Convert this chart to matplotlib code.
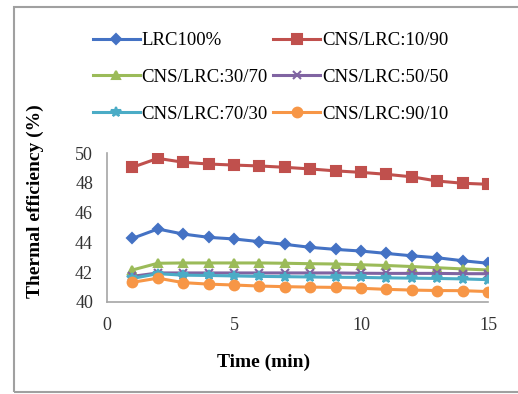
import matplotlib
matplotlib.use("Agg")
import matplotlib.pyplot as plt
from matplotlib.patches import Rectangle

time_min = list(range(1, 16))

lrc100 = [44.27, 44.9, 44.56, 44.34, 44.23, 44.05, 43.87, 43.67, 43.53, 43.42, 43.26, 43.1, 42.97, 42.77, 42.6]
cns_10_90 = [49.04, 49.64, 49.38, 49.26, 49.19, 49.13, 49.04, 48.93, 48.8, 48.7, 48.57, 48.4, 48.12, 47.97, 47.9]
cns_30_70 = [42.15, 42.6, 42.62, 42.62, 42.62, 42.62, 42.6, 42.57, 42.55, 42.5, 42.45, 42.38, 42.3, 42.22, 42.15]
cns_50_50 = [41.72, 41.95, 41.95, 41.95, 41.95, 41.95, 41.95, 41.95, 41.95, 41.93, 41.92, 41.92, 41.92, 41.9, 41.9]
cns_70_30 = [41.58, 41.9, 41.8, 41.78, 41.75, 41.72, 41.7, 41.68, 41.66, 41.65, 41.62, 41.6, 41.58, 41.55, 41.5]
cns_90_10 = [41.32, 41.6, 41.3, 41.2, 41.14, 41.07, 41.03, 41.0, 40.98, 40.92, 40.85, 40.8, 40.77, 40.76, 40.7]

labels = ["LRC100%", "CNS/LRC:10/90", "CNS/LRC:30/70",
          "CNS/LRC:50/50", "CNS/LRC:70/30", "CNS/LRC:90/10"]
series = [lrc100, cns_10_90, cns_30_70, cns_50_50, cns_70_30, cns_90_10]
colors = ["#4472C4", "#C0504D", "#9BBB59", "#8064A2", "#4BACC6", "#F79646"]
markers = ["D", "s", "^", "x", "*", "o"]
msizes = [5.5, 7, 6, 6, 7, 7]

plt.rcParams["font.family"] = ["Liberation Serif", "DejaVu Serif"]

fig = plt.figure(figsize=(5.18, 3.94), dpi=100)
ax = fig.add_axes([107 / 518, 1 - 302 / 394, (488 - 107) / 518, (302 - 153) / 394])

handles = []
for y, lab, c, m, ms in zip(series, labels, colors, markers, msizes):
    h, = ax.plot(time_min, y, color=c, marker=m, markersize=ms, linewidth=2.2,
                 markeredgewidth=1.5, label=lab)
    handles.append(h)

ax.set_xlim(0, 15)
ax.set_ylim(40, 50)
ax.set_xticks([0, 5, 10, 15])
ax.set_yticks([40, 42, 44, 46, 48, 50])
ax.tick_params(length=0, labelsize=13, colors="#333333")
ax.tick_params(axis="y", pad=10)
ax.tick_params(axis="x", pad=11)
for side in ["top", "right"]:
    ax.spines[side].set_visible(False)
for side in ["left", "bottom"]:
    ax.spines[side].set_color("#A6A6A6")
    ax.spines[side].set_linewidth(1.2)

ax.set_xlabel("Time (min)", fontsize=14, fontweight="bold")
ax.xaxis.set_label_coords(0.412, -0.345)
ax.set_ylabel("Thermal efficiency (%)", fontsize=14, fontweight="bold")
ax.yaxis.set_label_coords(-0.165, 0.678)

# legend fills columns first, so reorder to get the row-wise layout
order = [0, 2, 4, 1, 3, 5]
fig.legend([handles[i] for i in order], [labels[i] for i in order],
           loc="upper left", bbox_to_anchor=(93 / 518, 1 - 32 / 394), ncol=2,
           frameon=False, fontsize=13.5, handlelength=2.5, handletextpad=0.1,
           columnspacing=0.27, labelspacing=1.05, borderpad=0, borderaxespad=0)

fig.patches.append(Rectangle((14 / 518, 1 - 392 / 394), 1.2, (392 - 7) / 394,
                             transform=fig.transFigure, fill=False,
                             edgecolor="#A0A0A0", linewidth=1.5, clip_on=False))

plt.savefig("out.png", dpi=100)
